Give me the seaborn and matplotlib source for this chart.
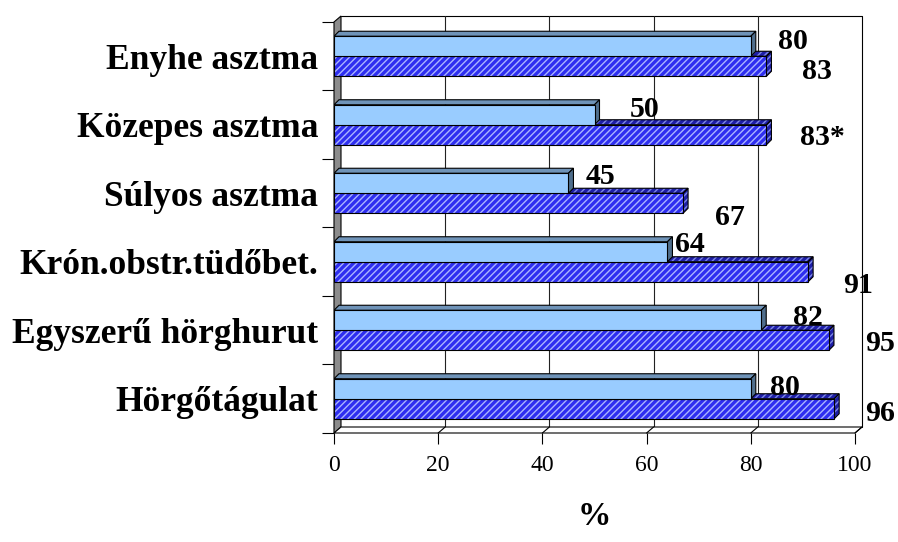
import pandas as pd
import seaborn as sns
import matplotlib.pyplot as plt
from matplotlib.patches import Polygon, Rectangle

categories = ["Enyhe asztma", "Közepes asztma", "Súlyos asztma",
              "Krón.obstr.tüdőbet.", "Egyszerű hörghurut", "Hörgőtágulat"]
series_a = [80, 50, 45, 64, 82, 80]
series_b = [83, 83, 67, 91, 95, 96]
labels_a = ["80", "50", "45", "64", "82", "80"]
labels_b = ["83", "83*", "67", "91", "95", "96"]
x_ticks = [0, 20, 40, 60, 80, 100]

# label nudges (data units)
dx_a = [8.1, 9.7, 6.1, 4.3, 9.0, 6.6]
dy_a = [-0.22, -0.22, -0.25, -0.25, -0.18, -0.16]
dx_b = [9.7, 10.7, 9.0, 9.6, 9.8, 8.8]
dy_b = [0.22, 0.19, 0.36, 0.34, 0.20, 0.21]

df = pd.DataFrame({
    "category": categories * 2,
    "value": series_a + series_b,
    "series": ["a"] * len(categories) + ["b"] * len(categories),
})

sns.set_style("white")
plt.rcParams["font.family"] = ["Liberation Serif", "DejaVu Serif"]
plt.rcParams["text.color"] = "black"
plt.rcParams["axes.labelcolor"] = "black"
plt.rcParams["hatch.linewidth"] = 1.0

fig = plt.figure(figsize=(8.98, 5.42), dpi=100)
ax = fig.add_axes([334 / 898, 1 - 433 / 542, 521 / 898, 411 / 542])

sns.barplot(data=df, x="value", y="category", hue="series", orient="h",
            palette=["#99ccff", "#2e2ef0"], width=0.584, saturation=1,
            legend=False, ax=ax)

ax.set_xlim(0, 100)
ax.set_ylim(5.5, -0.5)
n = len(categories)

# 3d depth in data units
wdx, wdy = 7 / 5.21, 6 / 68.5   # walls
bdx, bdy = 5 / 5.21, 5 / 68.5   # bars
lw = 0.8

# left wall
ax.add_patch(Polygon([(0, n - 0.5), (0, -0.5), (wdx, -0.5 - wdy), (wdx, n - 0.5 - wdy)],
                     closed=True, fc="#8c8c8c", ec="black", lw=lw, zorder=1, clip_on=False))
# floor
ax.add_patch(Polygon([(0, n - 0.5), (100, n - 0.5), (100 + wdx, n - 0.5 - wdy), (wdx, n - 0.5 - wdy)],
                     closed=True, fc="white", ec="black", lw=lw, zorder=1, clip_on=False))
# back wall frame + grid
ax.plot([wdx, 100 + wdx, 100 + wdx], [-0.5 - wdy, -0.5 - wdy, n - 0.5 - wdy],
        color="black", lw=lw, zorder=0.5, clip_on=False)
for t in x_ticks[1:-1]:
    ax.plot([t + wdx, t + wdx], [-0.5 - wdy, n - 0.5 - wdy], color="#222222", lw=lw,
            zorder=0.5, clip_on=False)
for t in x_ticks[1:]:
    ax.plot([t, t + wdx], [n - 0.5, n - 0.5 - wdy], color="black", lw=lw, zorder=1.1,
            clip_on=False)

# 3d bar faces
bars = list(ax.patches)
for i, p in enumerate(bars):
    if not isinstance(p, Rectangle) or p.get_width() == 0:
        continue
    x0, y0, w, h = p.get_x(), p.get_y(), p.get_width(), p.get_height()
    top = [(x0, y0), (x0 + w, y0), (x0 + w + bdx, y0 - bdy), (x0 + bdx, y0 - bdy)]
    side = [(x0 + w, y0), (x0 + w + bdx, y0 - bdy), (x0 + w + bdx, y0 + h - bdy), (x0 + w, y0 + h)]
    if i < n:
        ax.add_patch(Polygon(top, closed=True, fc="#6f93b8", ec="black", lw=lw, zorder=3))
        ax.add_patch(Polygon(side, closed=True, fc="#4f6e8c", ec="black", lw=lw, zorder=3))
        p.set_edgecolor("black")
        p.set_linewidth(lw)
        p.set_zorder(3.2)
    else:
        for poly in (top, side):
            ax.add_patch(Polygon(poly, closed=True, fc="#1e1ea8", ec="#7d88e6", lw=0,
                                 hatch="/////", zorder=2))
            ax.add_patch(Polygon(poly, closed=True, fill=False, ec="black", lw=lw, zorder=2.1))
        p.set_edgecolor("#aab4ff")
        p.set_hatch("/////")
        p.set_linewidth(0)
        p.set_zorder(2.2)
        ax.add_patch(Rectangle((x0, y0), w, h, fill=False, ec="black", lw=lw, zorder=2.3))

# value labels
for i in range(n):
    ax.text(series_a[i] + dx_a[i], i + dy_a[i], labels_a[i], ha="center", va="center",
            fontsize=21.5, fontweight="bold", color="black", zorder=5)
    ax.text(series_b[i] + dx_b[i], i + dy_b[i], labels_b[i], ha="center", va="center",
            fontsize=21.5, fontweight="bold", color="black", zorder=5)

for s in ax.spines.values():
    s.set_visible(False)

ax.set_xticks(x_ticks)
ax.set_xticklabels([str(t) for t in x_ticks])
ax.set_yticks(range(n))
ax.set_yticklabels(categories, fontsize=25.5, fontweight="bold")
ax.set_yticks([k - 0.5 for k in range(n + 1)], minor=True)
ax.tick_params(axis="x", bottom=True, length=8, width=lw, color="black",
               labelsize=17, labelcolor="black", pad=8)
ax.tick_params(axis="y", which="major", left=True, length=0, labelcolor="black", pad=11.5)
ax.tick_params(axis="y", which="minor", left=True, length=9, width=lw, color="black")
ax.set_ylabel("")
ax.set_xlabel("%", fontsize=24, fontweight="bold", labelpad=18)
ax.grid(False)

fig.savefig("out.png", dpi=100)
